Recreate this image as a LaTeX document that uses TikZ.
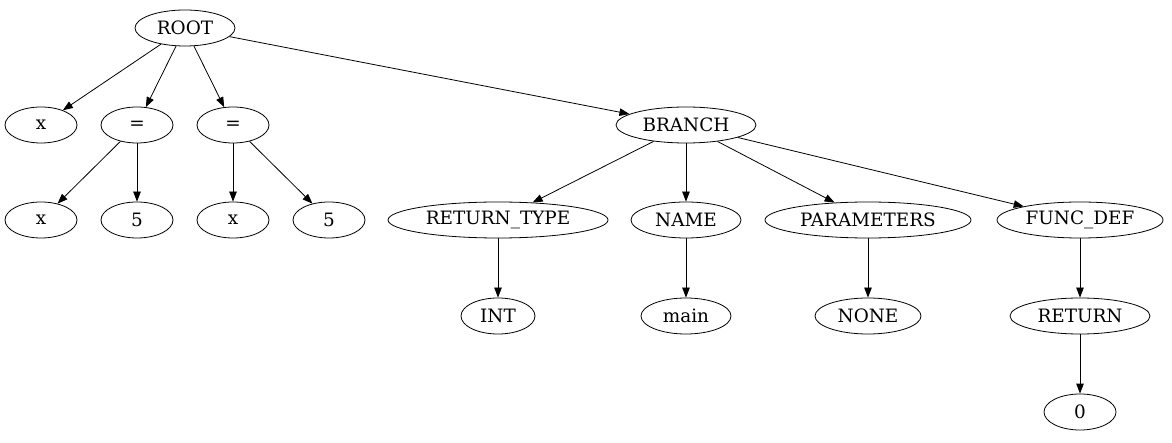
\documentclass[tikz,border=0pt]{standalone}
\usepackage{fontspec}
\setmainfont{DejaVu Serif}
\usetikzlibrary{shapes.geometric,arrows.meta}
\begin{document}
\begin{tikzpicture}[x=1pt,y=-1pt,
  nd/.style={draw,ellipse,inner sep=0pt,minimum height=36pt,font=\fontsize{18.4}{20}\selectfont,line width=0.8pt},
  edge/.style={draw,line width=0.8pt,-{Triangle[length=10pt,width=7.5pt]}}]
\useasboundingbox (0,0) rectangle (1172,443);
\node[nd,minimum width=100pt] (root) at (185,28) {ROOT};
\node[nd,minimum width=72pt] (x1) at (41,125) {x};
\node[nd,minimum width=72pt] (e1) at (137,125) {=};
\node[nd,minimum width=72pt] (e2) at (233,125) {=};
\node[nd,minimum width=140pt] (br) at (686,125) {BRANCH};
\node[nd,minimum width=72pt] (x2) at (41,220) {x};
\node[nd,minimum width=72pt] (f1) at (137,220) {5};
\node[nd,minimum width=72pt] (x3) at (233,220) {x};
\node[nd,minimum width=72pt] (f2) at (329,220) {5};
\node[nd,minimum width=220pt] (rt) at (498,220) {RETURN\_TYPE};
\node[nd,minimum width=110pt] (nm) at (686,220) {NAME};
\node[nd,minimum width=206pt] (pa) at (868,220) {PARAMETERS};
\node[nd,minimum width=166pt] (fd) at (1080,220) {FUNC\_DEF};
\node[nd,minimum width=74pt] (int) at (498,316) {INT};
\node[nd,minimum width=90pt] (main) at (686,316) {main};
\node[nd,minimum width=106pt] (none) at (868,316) {NONE};
\node[nd,minimum width=140pt] (ret) at (1080,316) {RETURN};
\node[nd,minimum width=72pt] (zero) at (1080,412) {0};
\draw[edge] (root) -- (x1);
\draw[edge] (root) -- (e1);
\draw[edge] (root) -- (e2);
\draw[edge] (root) -- (br);
\draw[edge] (e1) -- (x2);
\draw[edge] (e1) -- (f1);
\draw[edge] (e2) -- (x3);
\draw[edge] (e2) -- (f2);
\draw[edge] (br) -- (rt);
\draw[edge] (br) -- (nm);
\draw[edge] (br) -- (pa);
\draw[edge] (br) -- (fd);
\draw[edge] (rt) -- (int);
\draw[edge] (nm) -- (main);
\draw[edge] (pa) -- (none);
\draw[edge] (fd) -- (ret);
\draw[edge] (ret) -- (zero);
\end{tikzpicture}
\end{document}
